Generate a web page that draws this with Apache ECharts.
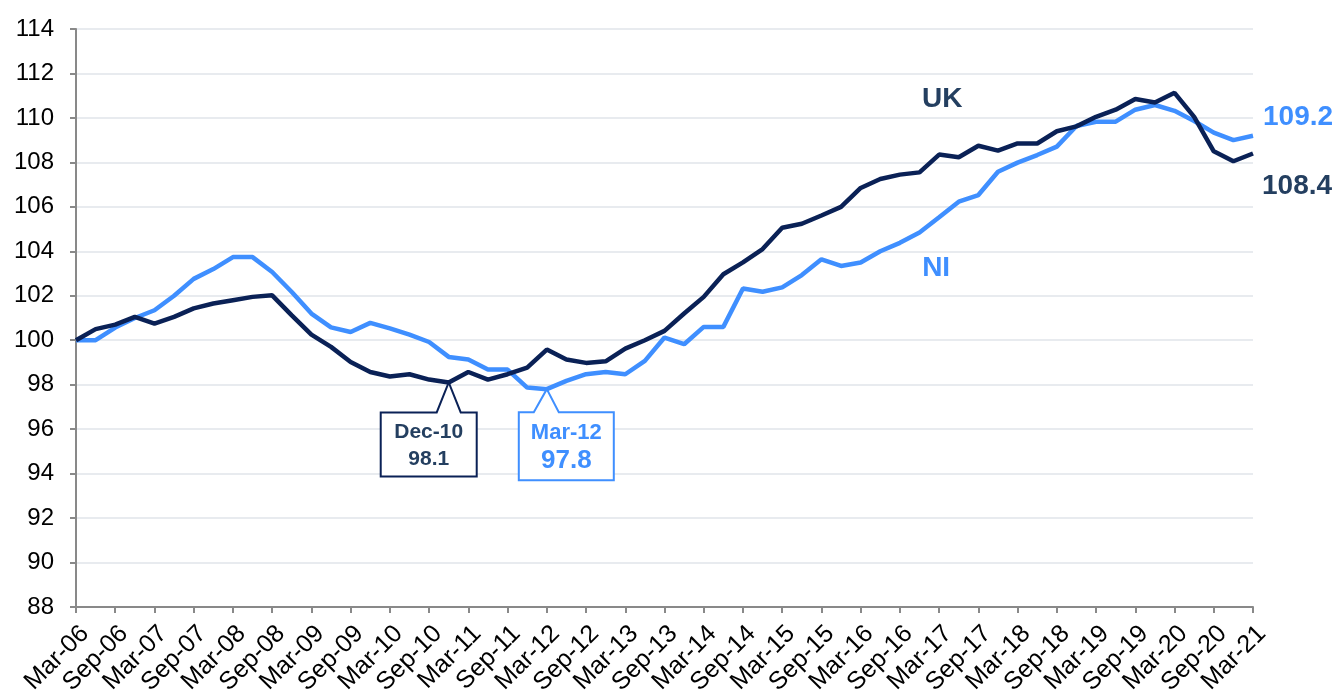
<!DOCTYPE html>
<html>
<head>
<meta charset="utf-8">
<title>UK vs NI index</title>
<script src="https://cdn.jsdelivr.net/npm/echarts@6/dist/echarts.min.js"></script>
<style>
  html, body { margin: 0; padding: 0; background: #fff; }
  #chart { width: 1341px; height: 697px; }
</style>
</head>
<body>
<div id="chart"></div>
<script>
// quarterly categories, Mar-06 .. Mar-21
const quarters = [
  'Mar-06','Jun-06','Sep-06','Dec-06','Mar-07','Jun-07','Sep-07','Dec-07',
  'Mar-08','Jun-08','Sep-08','Dec-08','Mar-09','Jun-09','Sep-09','Dec-09',
  'Mar-10','Jun-10','Sep-10','Dec-10','Mar-11','Jun-11','Sep-11','Dec-11',
  'Mar-12','Jun-12','Sep-12','Dec-12','Mar-13','Jun-13','Sep-13','Dec-13',
  'Mar-14','Jun-14','Sep-14','Dec-14','Mar-15','Jun-15','Sep-15','Dec-15',
  'Mar-16','Jun-16','Sep-16','Dec-16','Mar-17','Jun-17','Sep-17','Dec-17',
  'Mar-18','Jun-18','Sep-18','Dec-18','Mar-19','Jun-19','Sep-19','Dec-19',
  'Mar-20','Jun-20','Sep-20','Dec-20','Mar-21'
];

const ukValues = [
  100.0, 100.5, 100.7, 101.05, 100.75, 101.05, 101.43, 101.65,
  101.8, 101.95, 102.02, 101.12, 100.25, 99.7, 99.02, 98.57,
  98.37, 98.47, 98.23, 98.1, 98.57, 98.23, 98.47, 98.77,
  99.58, 99.13, 98.98, 99.05, 99.62, 100.0, 100.42, 101.2,
  101.95, 102.97, 103.5, 104.1, 105.06, 105.24, 105.61, 106.0,
  106.85, 107.25, 107.45, 107.55, 108.35, 108.23, 108.75, 108.53,
  108.85, 108.85, 109.4, 109.62, 110.05, 110.37, 110.85, 110.69,
  111.13, 110.05, 108.5, 108.05, 108.4
];

const niValues = [
  100.0, 100.0, 100.57, 101.0, 101.35, 102.0, 102.76, 103.2,
  103.74, 103.74, 103.07, 102.17, 101.2, 100.58, 100.37, 100.78,
  100.53, 100.25, 99.92, 99.25, 99.13, 98.68, 98.68, 97.87,
  97.8, 98.17, 98.47, 98.57, 98.47, 99.07, 100.12, 99.82,
  100.6, 100.6, 102.33, 102.18, 102.38, 102.93, 103.64, 103.34,
  103.5, 104.0, 104.38, 104.85, 105.53, 106.23, 106.53, 107.58,
  107.99, 108.33, 108.71, 109.64, 109.83, 109.83, 110.37, 110.58,
  110.32, 109.86, 109.34, 109.0, 109.2
];

const seriesNames = ['UK', 'NI'];
const lowPoints = ['Dec-10', 'Mar-12'];   // UK low, NI low
const yTicks = { min: 88, max: 114, step: 2 };

const ukColor = '#0A2156';
const ukText = '#243F60';
const niColor = '#3F8FFF';
const font = '"Liberation Sans", Arial, sans-serif';

const chart = echarts.init(document.getElementById('chart'));

const option = {
  animation: false,
  textStyle: { fontFamily: font },
  grid: { left: 76, right: 88, top: 29, bottom: 90, containLabel: false, outerBoundsMode: 'none' },
  xAxis: {
    type: 'category',
    data: quarters,
    boundaryGap: false,
    axisLine: { lineStyle: { color: '#898989', width: 2 } },
    axisTick: { show: true, interval: 1, length: 6, lineStyle: { color: '#898989', width: 2 } },
    axisLabel: {
      interval: 1, rotate: 45, color: '#000', fontSize: 25, margin: 14,
      verticalAlign: 'top', fontFamily: font
    },
    splitLine: { show: false }
  },
  yAxis: {
    type: 'value',
    min: yTicks.min,
    max: yTicks.max,
    interval: yTicks.step,
    axisLine: { show: true, lineStyle: { color: '#898989', width: 2 } },
    axisTick: { show: true, length: 6, lineStyle: { color: '#898989', width: 2 } },
    axisLabel: { color: '#000', fontSize: 24, margin: 22, fontFamily: font },
    splitLine: { lineStyle: { color: '#E8EBEF', width: 2 } }
  },
  series: [
    {
      name: seriesNames[0], type: 'line', data: ukValues, showSymbol: false,
      lineStyle: { color: ukColor, width: 4.5 }, itemStyle: { color: ukColor }, z: 3
    },
    {
      name: seriesNames[1], type: 'line', data: niValues, showSymbol: false,
      lineStyle: { color: niColor, width: 4.5 }, itemStyle: { color: niColor }, z: 2
    }
  ]
};

chart.setOption(option);

// annotations, anchored to data points through the chart's scales
function px(idx, val) {
  return chart.convertToPixel({ xAxisIndex: 0, yAxisIndex: 0 }, [idx, val]);
}

function callout(idx, val, box, lineColor, textColor, top, bottom) {
  const [x, y] = px(idx, val);
  const t = y + box.top, b = y + box.bottom, l = x + box.left, r = x + box.right;
  const cx = (l + r) / 2;
  return [
    {
      type: 'polygon', z: 10,
      shape: { points: [[l, t], [x + box.baseL, t], [x, y], [x + box.baseR, t], [r, t], [r, b], [l, b]] },
      style: { fill: '#fff', stroke: lineColor, lineWidth: 2 }
    },
    {
      type: 'text', z: 11, x: cx, y: y + top.dy,
      style: { text: top.text, fill: textColor, font: 'bold ' + top.size + 'px ' + font, align: 'center', verticalAlign: 'middle' }
    },
    {
      type: 'text', z: 11, x: cx, y: y + bottom.dy,
      style: { text: bottom.text, fill: textColor, font: 'bold ' + bottom.size + 'px ' + font, align: 'center', verticalAlign: 'middle' }
    }
  ];
}

function label(idx, val, text, color, size, dx, dy, align) {
  const [x, y] = px(idx, val);
  return {
    type: 'text', z: 11, x: x + dx, y: y + dy,
    style: { text: text, fill: color, font: 'bold ' + size + 'px ' + font, align: align, verticalAlign: 'middle' }
  };
}

const ukLowIdx = quarters.indexOf(lowPoints[0]);
const niLowIdx = quarters.indexOf(lowPoints[1]);
const last = quarters.length - 1;

const graphics = [].concat(
  callout(ukLowIdx, ukValues[ukLowIdx],
    { left: -68, right: 28, top: 30, bottom: 94, baseL: -12, baseR: 12 },
    ukColor, ukText,
    { text: lowPoints[0], size: 21, dy: 50 },
    { text: ukValues[ukLowIdx].toFixed(1), size: 21, dy: 77 }),
  callout(niLowIdx, niValues[niLowIdx],
    { left: -28, right: 67, top: 23, bottom: 91, baseL: -13, baseR: 12 },
    niColor, niColor,
    { text: lowPoints[1], size: 22, dy: 44 },
    { text: niValues[niLowIdx].toFixed(1), size: 26, dy: 72 }),
  [
    label(44, 110.82, seriesNames[0], ukText, 28, 3, 0, 'center'),
    label(44, 103.25, seriesNames[1], niColor, 28, -3, 0, 'center'),
    label(last, niValues[last], niValues[last].toFixed(1), niColor, 28, 10, -18, 'left'),
    label(last, ukValues[last], ukValues[last].toFixed(1), ukText, 28, 9, 33, 'left')
  ]
);

chart.setOption({ graphic: graphics });

window.addEventListener('resize', () => chart.resize());
</script>
</body>
</html>
